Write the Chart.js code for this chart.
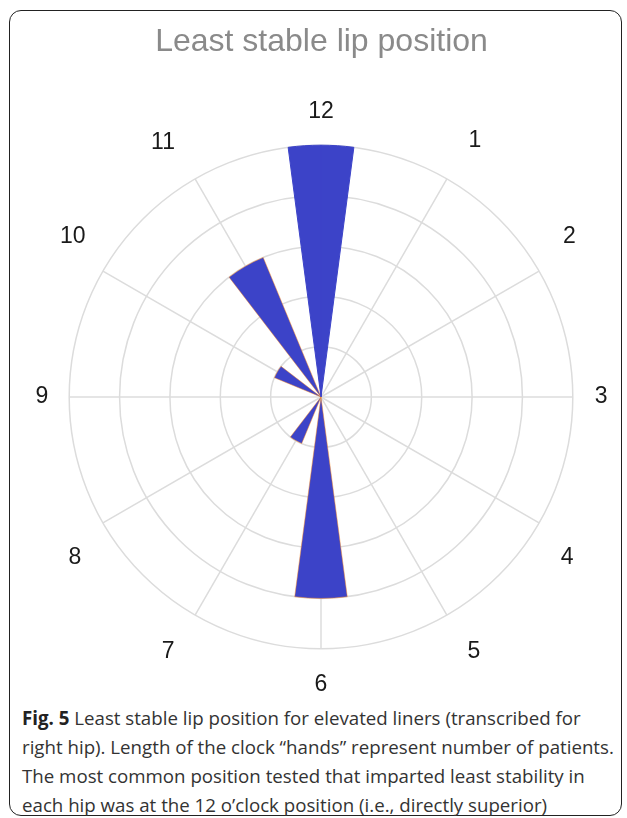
<!DOCTYPE html>
<html>
<head>
<meta charset="utf-8">
<script src="https://cdn.jsdelivr.net/npm/chart.js@4.4.1/dist/chart.umd.min.js"></script>
<style>
  html, body { margin: 0; padding: 0; background: #fff; }
  body { width: 627px; height: 818px; position: relative; overflow: hidden; }
  .frame {
    position: absolute; left: 9px; top: 10px; width: 613px; height: 806px;
    border: 1.5px solid #222; border-radius: 12px; box-sizing: border-box;
  }
  .chart-box { position: absolute; left: 0; top: 0; width: 627px; height: 700px; }
  .caption {
    position: absolute; left: 22px; top: 703px; width: 600px;
    font-family: "Open Sans", sans-serif; font-size: 18.7px; line-height: 29px; color: #333;
    white-space: nowrap;
  }
  .caption b { color: #222; }
</style>
</head>
<body>
<div class="frame"></div>
<div class="chart-box"><canvas id="myChart"></canvas></div>
<div class="caption">
  <b>Fig. 5</b> Least stable lip position for elevated liners (transcribed for<br>
  right hip). Length of the clock “hands” represent number of patients.<br>
  The most common position tested that imparted least stability in<br>
  each hip was at the 12 o’clock position (i.e., directly superior)
</div>
<script>
// clock positions and number of patients per position
const hours = ['12', '1', '2', '3', '4', '5', '6', '7', '8', '9', '10', '11'];
const patients = [5, 0, 0, 0, 0, 0, 4, 1, 0, 0, 1, 3];
const ringMax = 5;

// each clock "hand" is a 15 degree wedge centred on its hour,
// so the 12 o'clock wedge gets split across the start angle
const values = [patients[0]];
const angles = [7.5];
for (let i = 1; i < hours.length; i++) {
    values.push(0, patients[i]);
    angles.push(15, 15);
}
values.push(0, patients[0]);
angles.push(15, 7.5);

// label placement tweaks (padding / line height per hour label)
const labelPad = [19.6, 43.4, 27.5, 22, 25, 41, 21.6, 41, 25, 21, 20, 40.2];
const labelLh = [1.2, 0.1, 1.77, 1.2, 1.97, 0.1, 1.2, 0.1, 1.97, 1.2, 2.1, 0.1];

const blue = '#3c43c8';
const edge = 'rgba(255, 140, 30, 0.8)';
const last = values.length - 1;

const canvasContext = document.getElementById('myChart').getContext('2d');
const myChart = new Chart(canvasContext, {
    type: 'polarArea',
    data: {
        labels: hours,
        datasets: [{
            data: values,
            backgroundColor: blue,
            borderColor: ctx => (ctx.dataIndex === 0 || ctx.dataIndex === last) ? blue : edge,
            borderWidth: ctx => (ctx.dataIndex === 0 || ctx.dataIndex === last) ? 1 : 0.6,
            angle: ctx => angles[ctx.dataIndex]
        }]
    },
    options: {
        responsive: true,
        maintainAspectRatio: false,
        animation: false,
        layout: { padding: { left: 16, right: 0, top: 0, bottom: 1 } },
        plugins: {
            legend: { display: false },
            tooltip: { enabled: false },
            title: {
                display: true,
                text: 'Least stable lip position',
                color: '#8a8a8a',
                font: { family: 'Liberation Sans, Arial, sans-serif', size: 32, weight: 'normal' },
                padding: { top: 23, bottom: 36.6 }
            }
        },
        scales: {
            r: {
                min: 0,
                max: ringMax,
                startAngle: 0,
                ticks: { display: false, stepSize: 1 },
                grid: { circular: true, color: '#dcdcdc', lineWidth: 1.5 },
                angleLines: { display: true, color: '#dcdcdc', lineWidth: 1.5 },
                pointLabels: {
                    display: true,
                    color: '#1a1a1a',
                    font: ctx => ({ family: 'Liberation Sans, Arial, sans-serif', size: 23, lineHeight: labelLh[ctx.index] }),
                    padding: ctx => labelPad[ctx.index]
                }
            }
        }
    }
});
</script>
</body>
</html>
